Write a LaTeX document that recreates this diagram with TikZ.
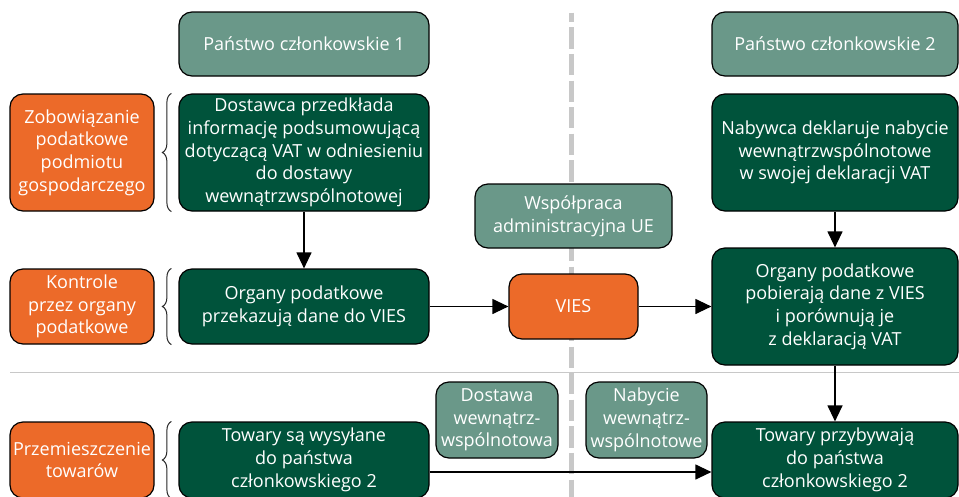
\documentclass[tikz,border=0pt]{standalone}
\usepackage{fontspec}
\setmainfont{Open Sans}
\usetikzlibrary{arrows.meta,decorations.pathreplacing}
\definecolor{lightteal}{HTML}{6A9889}
\definecolor{darkgreen}{HTML}{00533B}
\definecolor{vorange}{HTML}{EC6A29}
\definecolor{dashgray}{HTML}{C8C8C8}
\tikzset{
  x=1pt, y=1pt,
  box/.style={draw=black, line width=1.2pt, rounded corners=13pt, text=white,
    align=center, inner sep=0pt, font=\fontsize{18}{22.7}\selectfont},
  lbox/.style={box, fill=lightteal},
  dbox/.style={box, fill=darkgreen},
  obox/.style={box, fill=vorange},
  arr/.style={line width=1.2pt, -{Triangle[length=16pt,width=15pt]}},
  brc/.style={decorate, decoration={brace, amplitude=9pt}, line width=1pt, draw=black!85},
}
\begin{document}
\begin{tikzpicture}
\clip (0,0) rectangle (959,-496);
\fill[white] (0,0) rectangle (959,-496);
% separators
\draw[dashgray, line width=5.3pt, dash pattern=on 21.3pt off 5.3pt, dash phase=12pt] (571.5,-12.7) -- (571.5,-500);
\draw[dashgray, line width=1.5pt] (10,-372.5) -- (959,-372.5);
% nodes
\node[lbox, minimum width=250, minimum height=64] (p1) at (304,-44) {Państwo członkowskie 1};
\node[lbox, minimum width=246, minimum height=64] (p2) at (835,-44) {Państwo członkowskie 2};
\node[obox, minimum width=144, minimum height=117] (zob) at (82,-152.5) {Zobowiązanie\\podatkowe\\podmiotu\\gospodarczego};
\node[dbox, minimum width=250, minimum height=117] (dost) at (304,-152.5) {Dostawca przedkłada\\informację podsumowującą\\dotyczącą VAT w odniesieniu\\do dostawy\\wewnątrzwspólnotowej};
\node[dbox, minimum width=246, minimum height=117] (nab) at (835,-152.5) {Nabywca deklaruje nabycie\\wewnątrzwspólnotowe\\w swojej deklaracji VAT};
\node[lbox, minimum width=197, minimum height=64] (wsp) at (573.5,-216) {Współpraca\\administracyjna UE};
\node[obox, minimum width=144, minimum height=75] (kon) at (82,-306.5) {Kontrole\\przez organy\\podatkowe};
\node[dbox, minimum width=250, minimum height=75] (orgp) at (304,-306.5) {Organy podatkowe\\przekazują dane do VIES};
\node[obox, minimum width=129, minimum height=65] (vies) at (573.5,-306.5) {VIES};
\node[dbox, minimum width=246, minimum height=117] (orgv) at (835,-306.5) {Organy podatkowe\\pobierają dane z VIES\\i porównują je\\z deklaracją VAT};
\node[lbox, minimum width=122, minimum height=76] (dsw) at (497,-420) {Dostawa\\wewnątrz-\\wspólnotowa};
\node[lbox, minimum width=121, minimum height=76] (nbw) at (646.5,-420) {Nabycie\\wewnątrz-\\wspólnotowe};
\node[obox, minimum width=144, minimum height=76] (prz) at (82,-460) {Przemieszczenie\\towarów};
\node[dbox, minimum width=250, minimum height=76] (tws) at (304,-460) {Towary są wysyłane\\do państwa\\członkowskiego 2};
\node[dbox, minimum width=246, minimum height=76] (tpr) at (835,-460) {Towary przybywają\\do państwa\\członkowskiego 2};
% braces
\draw[brc] ([xshift=-7pt]dost.south west) -- ([xshift=-7pt]dost.north west);
\draw[brc] ([xshift=-7pt]orgp.south west) -- ([xshift=-7pt]orgp.north west);
\draw[brc] ([xshift=-7pt]tws.south west) -- ([xshift=-7pt]tws.north west);
% arrows
\draw[arr] (dost.south) -- (orgp.north);
\draw[arr] (orgp.east) -- (vies.west);
\draw[arr] (vies.east) -- (orgv.west);
\draw[arr] (nab.south) -- (orgv.north);
\draw[arr] (orgv.south) -- (tpr.north);
\draw[arr] ([yshift=-12pt]tws.east) -- ([yshift=-12pt]tpr.west);
\end{tikzpicture}
\end{document}
